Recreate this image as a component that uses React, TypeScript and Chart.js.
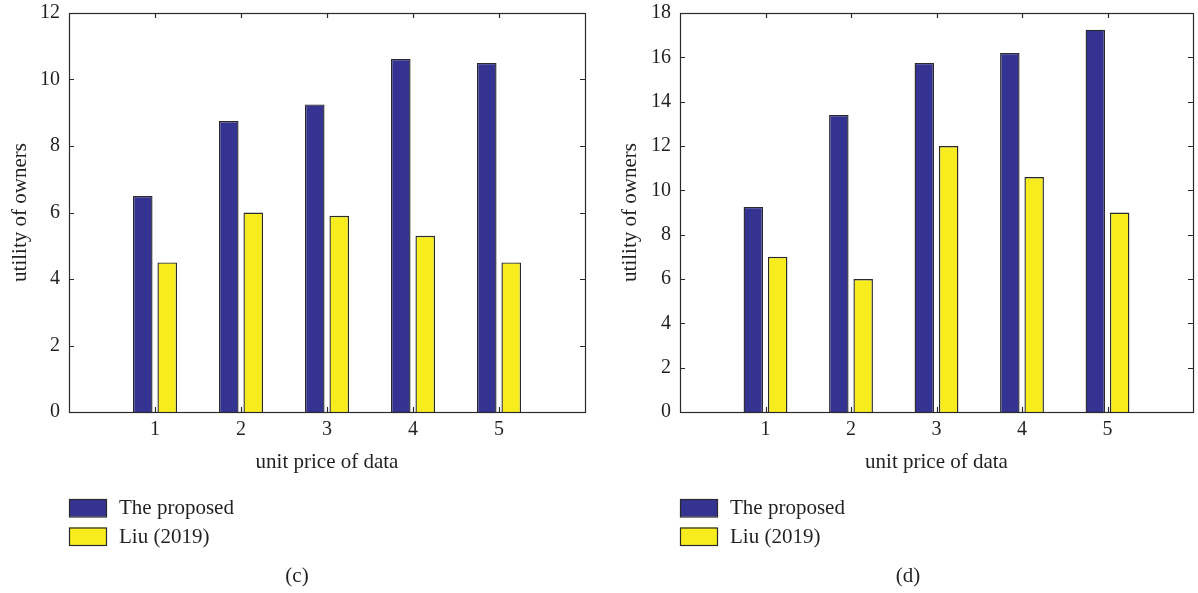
import React, { useEffect, useRef } from 'react';
import { Chart, registerables } from 'chart.js';

Chart.register(...registerables);

// ---- data ----
const categories = [1, 2, 3, 4, 5];
const seriesNames = ['The proposed', 'Liu (2019)'];
const proposedC = [6.5, 8.75, 9.25, 10.62, 10.5];
const liuC = [4.5, 6.0, 5.9, 5.3, 4.5];
const proposedD = [9.25, 13.4, 15.75, 16.2, 17.25];
const liuD = [7.0, 6.0, 12.0, 10.6, 9.0];
const yTicksC = [0, 2, 4, 6, 8, 10, 12];
const yTicksD = [0, 2, 4, 6, 8, 10, 12, 14, 16, 18];
const xTickLabels = ['1', '2', '3', '4', '5'];
const xTitle = 'unit price of data';
const yTitle = 'utility of owners';

const FONT = "'Liberation Serif', 'Times New Roman', serif";
const TEXT = '#231f20';
const LINE = '#2a2a2a';
const BLUE = '#353391';
const YELLOW = '#f7ec1d';

type PanelProps = {
  proposed: number[];
  liu: number[];
  yTicks: number[];
  caption: string;
  captionX: number;
  yAxisWidth: number;
  padRight: number;
  yTitlePad: number;
};

const framePlugin = {
  id: 'frame',
  afterDraw(chart: any, _args: any, opts: any) {
    const { ctx, chartArea } = chart;
    const { left, right, top, bottom } = chartArea;
    const xs = chart.scales.x;
    const ys = chart.scales.y;
    ctx.save();
    ctx.strokeStyle = LINE;
    ctx.lineWidth = 1.2;
    ctx.strokeRect(Math.round(left) + 0.5, Math.round(top) + 0.5, Math.round(right - left), Math.round(bottom - top));
    const tl = 5;
    ctx.beginPath();
    ys.ticks.forEach((t: any) => {
      const py = Math.round(ys.getPixelForValue(t.value)) + 0.5;
      ctx.moveTo(left, py);
      ctx.lineTo(left + tl, py);
      ctx.moveTo(right, py);
      ctx.lineTo(right - tl, py);
    });
    xs.ticks.forEach((t: any) => {
      const px = Math.round(xs.getPixelForValue(t.value)) + 0.5;
      ctx.moveTo(px, bottom);
      ctx.lineTo(px, bottom - tl);
      ctx.moveTo(px, top);
      ctx.lineTo(px, top + tl);
    });
    ctx.stroke();

    // legend
    const boxW = 37;
    const boxH = 17.5;
    const rowTop = 499;
    const rowGap = 28.5;
    ctx.font = `21px ${FONT}`;
    ctx.textBaseline = 'middle';
    ctx.textAlign = 'left';
    chart.data.datasets.forEach((ds: any, i: number) => {
      const y = rowTop + i * rowGap;
      ctx.fillStyle = ds.backgroundColor;
      ctx.fillRect(left, y, boxW, boxH);
      ctx.lineWidth = 1.2;
      ctx.strokeStyle = LINE;
      ctx.strokeRect(left + 0.5, y + 0.5, boxW, boxH);
      ctx.fillStyle = TEXT;
      ctx.fillText(ds.label, left + 50, y + boxH / 2 + 1);
    });

    // caption
    ctx.textAlign = 'center';
    ctx.fillText(opts.caption, opts.captionX, 576);
    ctx.restore();
  },
};

function Panel(props: PanelProps) {
  const ref = useRef<HTMLCanvasElement | null>(null);
  useEffect(() => {
    if (!ref.current) return;
    const yMax = props.yTicks[props.yTicks.length - 1];
    const chart = new Chart(ref.current, {
      type: 'bar',
      data: {
        datasets: [
          {
            label: seriesNames[0],
            data: categories.map((c, i) => ({ x: c, y: props.proposed[i] })),
            backgroundColor: BLUE,
            borderColor: LINE,
            borderWidth: 1.4,
            categoryPercentage: 0.57,
            barPercentage: 0.8,
          },
          {
            label: seriesNames[1],
            data: categories.map((c, i) => ({ x: c, y: props.liu[i] })),
            backgroundColor: YELLOW,
            borderColor: LINE,
            borderWidth: 1.4,
            categoryPercentage: 0.57,
            barPercentage: 0.8,
          },
        ],
      },
      options: {
        animation: false,
        responsive: false,
        events: [],
        layout: { padding: { left: 0, right: props.padRight, top: 13, bottom: 118 } },
        plugins: {
          legend: { display: false },
          tooltip: { enabled: false },
          frame: { caption: props.caption, captionX: props.captionX },
        } as any,
        scales: {
          x: {
            type: 'linear',
            min: 0,
            max: categories.length + 1,
            offset: false,
            grid: { display: false, drawTicks: false },
            border: { display: false },
            afterBuildTicks: (s: any) => {
              s.ticks = categories.map((c) => ({ value: c }));
            },
            afterFit: (s: any) => {
              s.height = 63;
              s.paddingLeft = 0;
              s.paddingRight = 0;
            },
            ticks: {
              autoSkip: false,
              maxRotation: 0,
              padding: 6,
              color: TEXT,
              font: { family: FONT, size: 20 },
              callback: (v: any) => {
                const idx = categories.indexOf(Number(v));
                return idx >= 0 ? xTickLabels[idx] : '';
              },
            },
            title: {
              display: true,
              text: xTitle,
              color: TEXT,
              font: { family: FONT, size: 21 },
              padding: { top: 0, bottom: 0 },
            },
          },
          y: {
            min: 0,
            max: yMax,
            grid: { display: false, drawTicks: false },
            border: { display: false },
            afterBuildTicks: (s: any) => {
              s.ticks = props.yTicks.map((v) => ({ value: v }));
            },
            afterFit: (s: any) => {
              s.width = props.yAxisWidth;
              s.paddingTop = 0;
              s.paddingBottom = 0;
            },
            ticks: {
              padding: 9,
              color: TEXT,
              font: { family: FONT, size: 20 },
            },
            title: {
              display: true,
              text: yTitle,
              color: TEXT,
              font: { family: FONT, size: 21 },
              padding: { top: props.yTitlePad, bottom: 0 },
            },
          },
        },
      } as any,
      plugins: [framePlugin],
    });
    return () => chart.destroy();
  }, []);
  return <canvas ref={ref} width={599} height={593} style={{ width: 599, height: 593, display: 'block' }} />;
}

export default function App() {
  return (
    <div style={{ position: 'absolute', left: 0, top: 0, width: 1198, height: 593, background: '#fff', display: 'flex' }}>
      <Panel proposed={proposedC} liu={liuC} yTicks={yTicksC} caption="(c)" captionX={297} yAxisWidth={69} padRight={14} yTitlePad={8} />
      <Panel proposed={proposedD} liu={liuD} yTicks={yTicksD} caption="(d)" captionX={309} yAxisWidth={81} padRight={5} yTitlePad={19} />
    </div>
  );
}
